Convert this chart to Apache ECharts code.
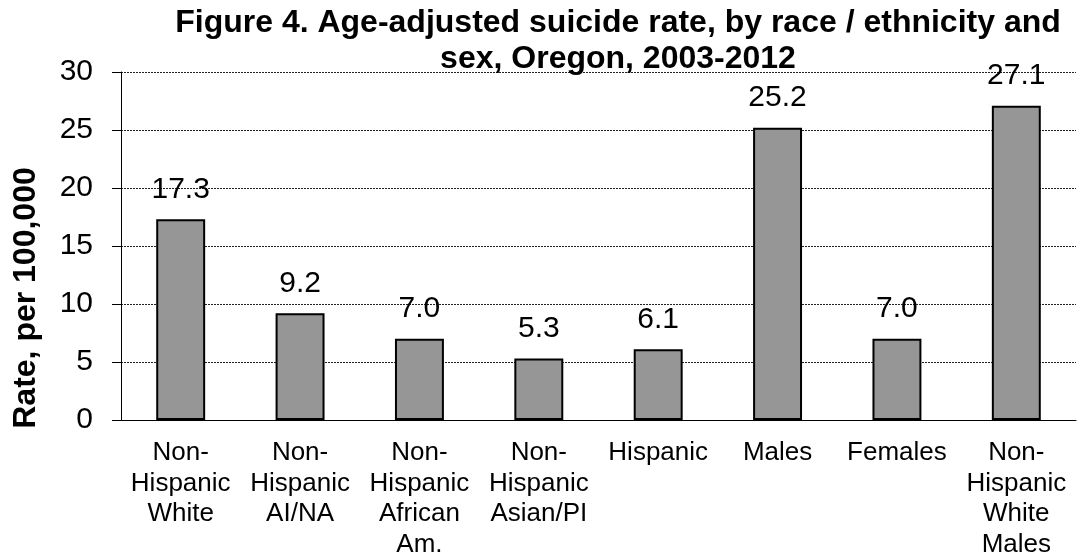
<!DOCTYPE html>
<html>
<head>
<meta charset="utf-8">
<script src="https://cdn.jsdelivr.net/npm/echarts@6/dist/echarts.min.js"></script>
<style>
  html, body { margin: 0; padding: 0; background: #fff; }
  #chart { width: 1080px; height: 560px; }
</style>
</head>
<body>
<div id="chart"></div>
<script>
// Age-adjusted suicide rate per 100,000, Oregon 2003-2012
const categories = [
  'Non-\nHispanic\nWhite',
  'Non-\nHispanic\nAI/NA',
  'Non-\nHispanic\nAfrican\nAm.',
  'Non-\nHispanic\nAsian/PI',
  'Hispanic',
  'Males',
  'Females',
  'Non-\nHispanic\nWhite\nMales'
];
const rates = [17.3, 9.2, 7.0, 5.3, 6.1, 25.2, 7.0, 27.1];
const yTicks = [0, 5, 10, 15, 20, 25, 30];
const titleLines = [
  'Figure 4. Age-adjusted suicide rate, by race / ethnicity and',
  'sex, Oregon, 2003-2012'
];
const yAxisTitle = 'Rate, per 100,000';

const FONT = '"Liberation Sans", Arial, sans-serif';

const titleStyle = {
  fontFamily: FONT,
  fontWeight: 'bold',
  fontSize: 32,
  color: '#000'
};

const chart = echarts.init(document.getElementById('chart'));
chart.setOption({
  backgroundColor: '#ffffff',
  animation: false,
  title: [
    { text: titleLines[0], left: 613, top: 2, textAlign: 'center', textStyle: titleStyle },
    { text: titleLines[1], left: 613, top: 38, textAlign: 'center', textStyle: titleStyle }
  ],
  grid: {
    left: 121,
    right: 4,
    top: 72,
    bottom: 138,
    containLabel: false
  },
  xAxis: {
    type: 'category',
    data: categories,
    axisLine: { show: true, lineStyle: { color: '#000', width: 1 } },
    axisTick: { show: false },
    axisLabel: {
      interval: 0,
      margin: 18,
      fontFamily: FONT,
      fontSize: 26,
      lineHeight: 30.5,
      color: '#000',
      align: 'center'
    }
  },
  yAxis: {
    type: 'value',
    min: yTicks[0],
    max: yTicks[yTicks.length - 1],
    interval: 5,
    axisLine: { show: true, lineStyle: { color: '#000', width: 1 } },
    axisTick: { show: true, inside: false, length: 9, lineStyle: { color: '#000' } },
    axisLabel: {
      margin: 28,
      fontFamily: FONT,
      fontSize: 30,
      color: '#000'
    },
    splitLine: {
      show: true,
      lineStyle: { color: '#222', type: [2, 1], width: 1 }
    }
  },
  graphic: [{
    type: 'text',
    x: 26,
    y: 298,
    rotation: Math.PI / 2,
    style: {
      text: yAxisTitle,
      fontFamily: FONT,
      fontWeight: 'bold',
      fontSize: 32,
      fill: '#000',
      align: 'center',
      verticalAlign: 'middle'
    }
  }],
  series: [{
    type: 'bar',
    data: rates,
    barWidth: '41%',
    itemStyle: {
      color: '#969696',
      borderColor: '#000',
      borderWidth: 2
    },
    label: {
      show: true,
      position: 'top',
      distance: 15,
      formatter: p => p.value.toFixed(1),
      fontFamily: FONT,
      fontSize: 30,
      color: '#000'
    }
  }]
});
</script>
</body>
</html>
